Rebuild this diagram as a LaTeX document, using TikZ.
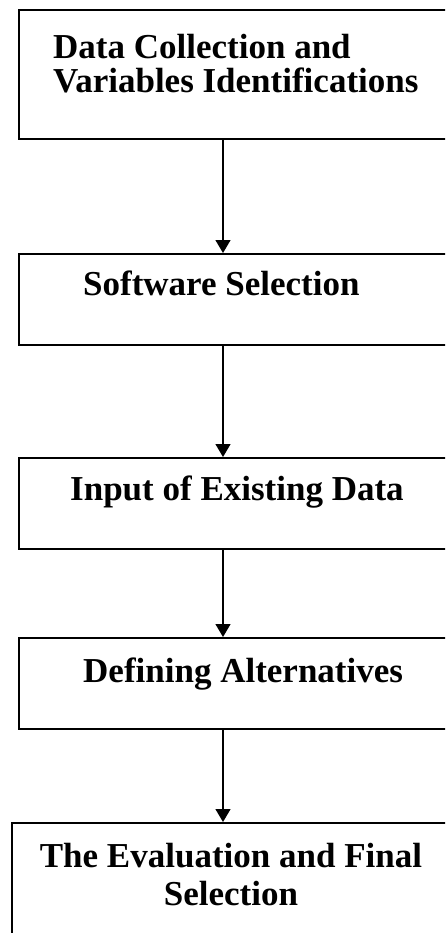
\documentclass[tikz,border=0pt]{standalone}
\usepackage{fontspec}
\setmainfont{Liberation Serif}
\usetikzlibrary{arrows.meta}
\begin{document}
\begin{tikzpicture}[x=1pt,y=-1pt,
  stagebox/.style={draw=black,line width=1.8pt,rectangle,inner sep=0pt,anchor=north west},
  stagetext/.style={font=\fontsize{35}{34}\selectfont\bfseries,inner sep=0pt,anchor=base west},
  flow/.style={line width=1.3pt,-{Triangle[width=15pt,length=13pt]}}]
  \useasboundingbox (0,0) rectangle (445,933);
  \clip (0,0) rectangle (445,933);
  \fill[white] (0,0) rectangle (445,933);

  % stage boxes (right sides run off the page)
  \node[stagebox,minimum width=442pt,minimum height=129pt] (b1) at (18,9) {};
  \node[stagebox,minimum width=442pt,minimum height=91pt] (b2) at (18,253) {};
  \node[stagebox,minimum width=442pt,minimum height=91pt] (b3) at (18,457) {};
  \node[stagebox,minimum width=442pt,minimum height=91pt] (b4) at (18,637) {};
  \node[stagebox,minimum width=449pt,minimum height=130pt] (b5) at (11,822) {};

  % stage labels (base of a two-line label is its last line)
  \node[stagetext,align=left] (t1) at (53,93) {Data Collection and\\Variables Identifications};
  \node[stagetext] (t2) at (83,295) {Software Selection};
  \node[stagetext] (t3) at (70,500) {Input of Existing Data};
  \node[stagetext] (t4) at (83,682) {Defining Alternatives};
  \node[stagetext,anchor=base,align=center,font=\fontsize{35}{38}\selectfont\bfseries] (t5) at (231,905) {The Evaluation and Final\\Selection};

  % connectors
  \coordinate (ax) at (223,0);
  \draw[flow] (b1.south -| ax) -- (b2.north -| ax);
  \draw[flow] (b2.south -| ax) -- (b3.north -| ax);
  \draw[flow] (b3.south -| ax) -- (b4.north -| ax);
  \draw[flow] (b4.south -| ax) -- (b5.north -| ax);
\end{tikzpicture}
\end{document}
